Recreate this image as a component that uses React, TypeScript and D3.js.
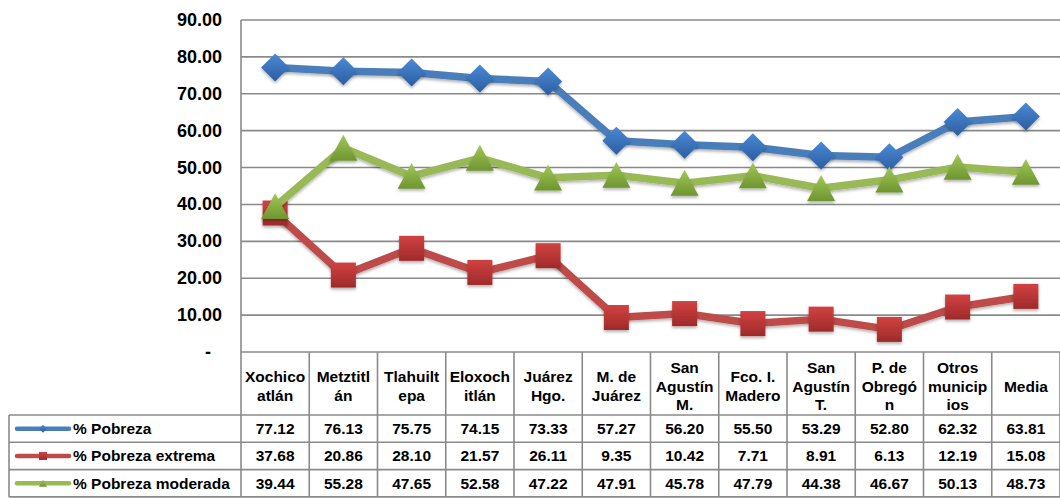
import React from "react";
import * as d3 from "d3";

// municipios (header lines as they wrap in the table)
const categories = [
  ["Xochico", "atlán"],
  ["Metztitl", "án"],
  ["Tlahuilt", "epa"],
  ["Eloxoch", "itlán"],
  ["Juárez", "Hgo."],
  ["M. de", "Juárez"],
  ["San", "Agustín", "M."],
  ["Fco. I.", "Madero"],
  ["San", "Agustín", "T."],
  ["P. de", "Obregó", "n"],
  ["Otros", "municip", "ios"],
  ["Media"],
];

const pobreza = [77.12, 76.13, 75.75, 74.15, 73.33, 57.27, 56.2, 55.5, 53.29, 52.8, 62.32, 63.81];
const pobrezaExtrema = [37.68, 20.86, 28.1, 21.57, 26.11, 9.35, 10.42, 7.71, 8.91, 6.13, 12.19, 15.08];
const pobrezaModerada = [39.44, 55.28, 47.65, 52.58, 47.22, 47.91, 45.78, 47.79, 44.38, 46.67, 50.13, 48.73];

const yTicks = [0, 10, 20, 30, 40, 50, 60, 70, 80, 90];

const series = [
  { name: "% Pobreza", values: pobreza, color: "#4a7ebb", light: "#4a8ad8", dark: "#2c5d9e", shape: "diamond" },
  { name: "% Pobreza extrema", values: pobrezaExtrema, color: "#be4b48", light: "#d24242", dark: "#9e2a2a", shape: "square" },
  { name: "% Pobreza moderada", values: pobrezaModerada, color: "#98b954", light: "#a2c857", dark: "#6e9530", shape: "triangle" },
];

const W = 1060;
const H = 498;
const plotLeft = 241;
const plotRight = 1060;
const plotTop = 20;
const plotBottom = 352;
const tableLeft = 9;
const headerBottom = 415;
const rowH = 27.3;
const grid = "#8a8a8a";
const font = "'Liberation Sans', Arial, sans-serif";

// marker outline, s = overall width in px
const markerPath = (shape: string, s: number) => {
  const h = s / 2;
  if (shape === "diamond") return `M0,${-h}L${h},0L0,${h}L${-h},0Z`;
  if (shape === "square") return `M${-h},${-h}H${h}V${h}H${-h}Z`;
  return `M0,${-h * 0.95}L${h},${h * 0.9}H${-h}Z`;
};

const markerSize: Record<string, number> = { diamond: 28, square: 25, triangle: 28 };

export default function App() {
  const x = d3
    .scaleBand<number>()
    .domain(d3.range(categories.length))
    .range([plotLeft, plotRight]);
  const y = d3.scaleLinear().domain([0, 90]).range([plotBottom, plotTop]);
  const cx = (i: number) => (x(i) as number) + x.bandwidth() / 2;

  const line = d3
    .line<number>()
    .x((_, i) => cx(i))
    .y((d) => y(d));

  return (
    <svg
      width={W}
      height={H}
      style={{ position: "absolute", left: 0, top: 0, background: "#fff" }}
      fontFamily={font}
      fontWeight="bold"
    >
      <defs>
        {series.map((s, k) => (
          <linearGradient key={k} id={`g${k}`} x1="0" y1="0" x2="0" y2="1">
            <stop offset="0" stopColor={s.light} />
            <stop offset="1" stopColor={s.dark} />
          </linearGradient>
        ))}
        <filter id="shadow" x="-50%" y="-50%" width="200%" height="200%">
          <feDropShadow dx="0" dy="2" stdDeviation="1.6" floodColor="#000" floodOpacity="0.3" />
        </filter>
      </defs>

      {/* gridlines */}
      {yTicks.map((t) => (
        <line key={t} x1={plotLeft} x2={plotRight} y1={y(t)} y2={y(t)} stroke={grid} strokeWidth={1.6} />
      ))}
      <line x1={plotLeft} x2={plotLeft} y1={plotTop} y2={H - 1} stroke={grid} strokeWidth={1.6} />

      {/* y labels */}
      {yTicks.map((t) =>
        t === 0 ? (
          <text key={t} x={208} y={y(t)} textAnchor="middle" dominantBaseline="central" fontSize={18}>
            -
          </text>
        ) : (
          <text key={t} x={222} y={y(t)} textAnchor="end" dominantBaseline="central" fontSize={18}>
            {t.toFixed(2)}
          </text>
        )
      )}

      {/* series */}
      {series.map((s, k) => (
        <g key={k}>
          <path
            d={line(s.values) as string}
            fill="none"
            stroke={s.color}
            strokeWidth={7.5}
            strokeLinejoin="round"
            filter="url(#shadow)"
          />
          {s.values.map((v, i) => (
            <path
              key={i}
              d={markerPath(s.shape, markerSize[s.shape])}
              transform={`translate(${cx(i)},${y(v)})`}
              fill={`url(#g${k})`}
              filter="url(#shadow)"
            />
          ))}
        </g>
      ))}

      {/* table: header */}
      {categories.map((c, i) => (
        <g key={i}>
          <line
            x1={(x(i) as number) + x.bandwidth()}
            x2={(x(i) as number) + x.bandwidth()}
            y1={plotBottom}
            y2={H - 1}
            stroke={grid}
            strokeWidth={1.6}
          />
          {c.map((ln, j) => (
            <text
              key={j}
              x={cx(i)}
              y={386 + (j - (c.length - 1) / 2) * 18.3}
              textAnchor="middle"
              dominantBaseline="central"
              fontSize={15.5}
            >
              {ln}
            </text>
          ))}
        </g>
      ))}

      {/* table: rows */}
      {[0, 1, 2, 3].map((r) => (
        <line
          key={r}
          x1={tableLeft}
          x2={plotRight}
          y1={headerBottom + r * rowH}
          y2={headerBottom + r * rowH}
          stroke={grid}
          strokeWidth={1.6}
        />
      ))}
      <line x1={tableLeft} x2={tableLeft} y1={headerBottom} y2={H - 1} stroke={grid} strokeWidth={1.6} />

      {series.map((s, k) => {
        const cy = headerBottom + k * rowH + rowH / 2;
        return (
          <g key={k}>
            <line x1={17} x2={69} y1={cy} y2={cy} stroke={s.color} strokeWidth={4.5} strokeLinecap="round" />
            <path d={markerPath(s.shape, 8)} transform={`translate(43,${cy})`} fill={`url(#g${k})`} />
            <text x={73} y={cy} dominantBaseline="central" fontSize={15.5}>
              {s.name}
            </text>
            {s.values.map((v, i) => (
              <text key={i} x={cx(i)} y={cy} textAnchor="middle" dominantBaseline="central" fontSize={15.5}>
                {v.toFixed(2)}
              </text>
            ))}
          </g>
        );
      })}
    </svg>
  );
}
